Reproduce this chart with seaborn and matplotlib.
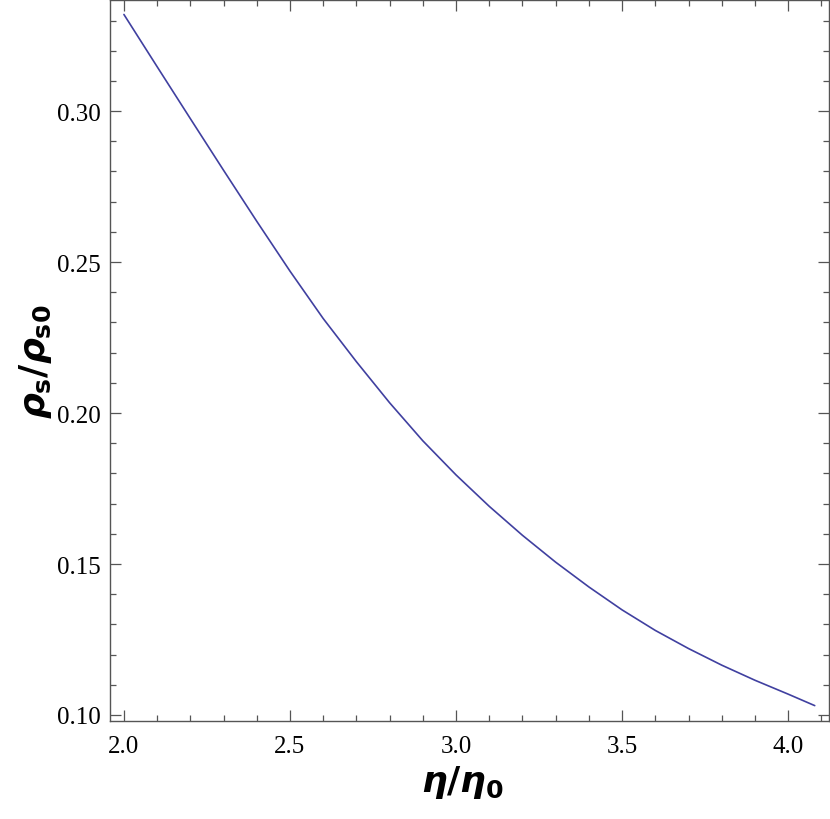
import matplotlib
matplotlib.use("Agg")
import matplotlib.pyplot as plt
import seaborn as sns
import pandas as pd
from matplotlib.ticker import MultipleLocator, FormatStrFormatter

# values
eta = [2.0, 2.1, 2.2, 2.3, 2.4, 2.5, 2.6, 2.7, 2.8, 2.9, 3.0,
       3.1, 3.2, 3.3, 3.4, 3.5, 3.6, 3.7, 3.8, 3.9, 4.0, 4.08]
rho = [0.3320, 0.3147, 0.2975, 0.2804, 0.2635, 0.2470, 0.2313, 0.2170,
       0.2034, 0.1908, 0.1795, 0.1691, 0.1595, 0.1506, 0.1424, 0.1348,
       0.1280, 0.1220, 0.1165, 0.1115, 0.1069, 0.1031]

df = pd.DataFrame({'eta': eta, 'rho': rho})

sns.set_style('ticks')
plt.rcParams['font.family'] = ['Liberation Serif', 'DejaVu Serif']
plt.rcParams['mathtext.fontset'] = 'custom'
plt.rcParams['mathtext.it'] = 'DejaVu Sans:italic:bold'
plt.rcParams['mathtext.bf'] = 'DejaVu Sans:bold'
plt.rcParams['mathtext.rm'] = 'DejaVu Sans:bold'

fig = plt.figure(figsize=(8.3, 8.2), dpi=100)
ax = fig.add_axes([0.1325, 0.1195, 0.8663, 0.8793])

sns.lineplot(data=df, x='eta', y='rho', ax=ax, color='#4040a0', linewidth=1.2)

ax.set_xlim(1.958, 4.123)
ax.set_ylim(0.098, 0.3368)
ax.xaxis.set_major_locator(MultipleLocator(0.5))
ax.xaxis.set_minor_locator(MultipleLocator(0.1))
ax.yaxis.set_major_locator(MultipleLocator(0.05))
ax.yaxis.set_minor_locator(MultipleLocator(0.01))
ax.xaxis.set_major_formatter(FormatStrFormatter('%.1f'))
ax.yaxis.set_major_formatter(FormatStrFormatter('%.2f'))

frame = '#555555'
for s in ax.spines.values():
    s.set_visible(True)
    s.set_color(frame)
    s.set_linewidth(1.0)
ax.tick_params(which='both', direction='in', top=True, right=True,
               color=frame, width=0.9, labelsize=18, labelcolor='black')
ax.tick_params(which='major', length=8)
ax.tick_params(which='minor', length=4.5)
ax.tick_params(axis='x', which='major', pad=10)
ax.tick_params(axis='y', which='major', pad=7)

ax.set_xlabel(r'$\eta/\eta_{\mathbf{0}}$', fontsize=26, color='black')
ax.set_ylabel(r'$\rho_{\mathbf{s}}/\rho_{\mathbf{s0}}$', fontsize=26, color='black')
ax.xaxis.set_label_coords(0.49, -0.058)
ax.yaxis.set_label_coords(-0.078, 0.5)

plt.savefig('out.png', dpi=100)
